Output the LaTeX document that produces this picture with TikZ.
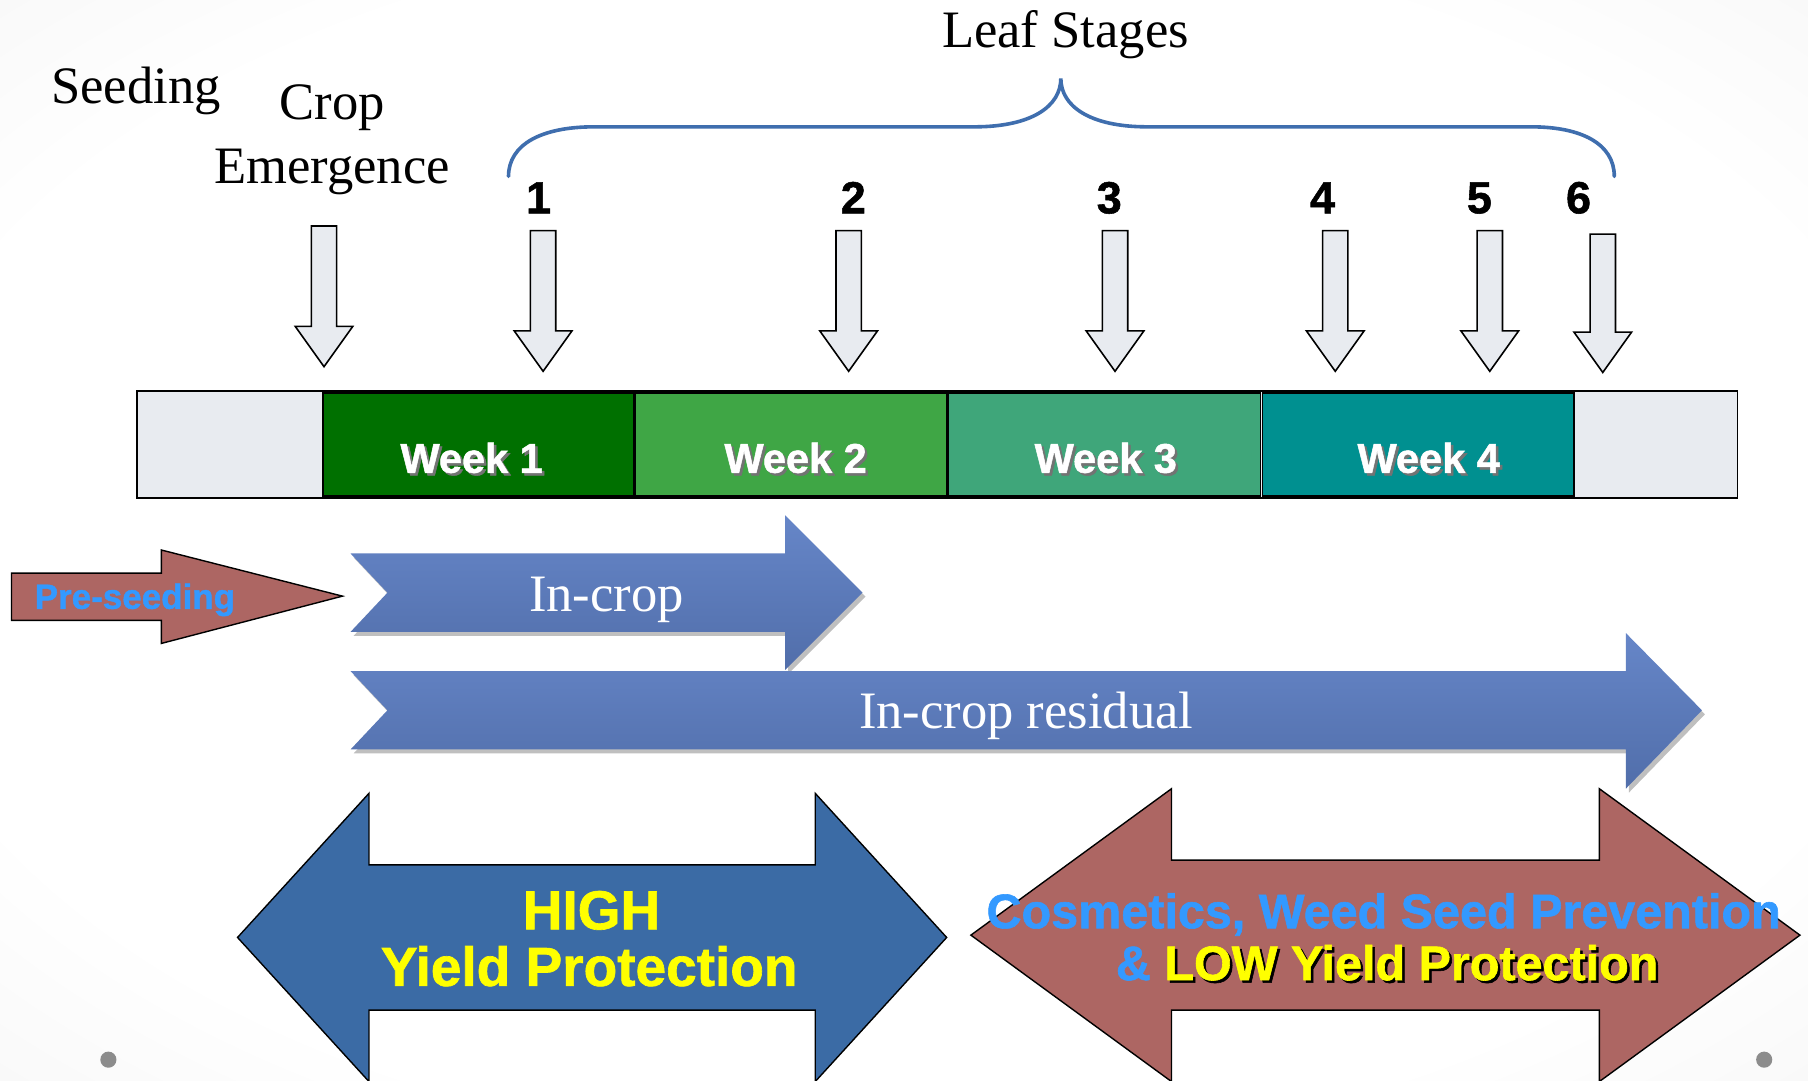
\documentclass[tikz,border=0pt]{standalone}
\usepackage{fontspec}
\setmainfont{Liberation Serif}
\newfontfamily\sansf{Liberation Sans}[BoldFeatures={FakeBold=1.2}]
\usetikzlibrary{shadows}
\definecolor{bargray}{HTML}{E8EBF0}
\definecolor{wkone}{HTML}{007000}
\definecolor{wktwo}{HTML}{3FA645}
\definecolor{wkthree}{HTML}{3FA67A}
\definecolor{wkfour}{HTML}{009090}
\definecolor{bracecol}{HTML}{3F6EAE}
\definecolor{arrtop}{HTML}{6686C8}
\definecolor{arrbot}{HTML}{516EAA}
\definecolor{brick}{HTML}{AD6663}
\definecolor{deepblue}{HTML}{3B6BA5}
\definecolor{skyblue}{HTML}{3399FF}
\definecolor{yell}{HTML}{FFFF00}
\pgfdeclareradialshading{bgshade}{\pgfpoint{0bp}{0bp}}{color(0bp)=(white); color(28bp)=(white); color(50bp)=(black!7); color(71bp)=(black!14)}
\newcommand\shadowed[2]{\leavevmode\rlap{\hspace{2.5pt}\raisebox{-2.5pt}{\color{#1}#2}}#2}
\newcommand\downarr[3]{%
  \draw[darr] (#1-11,#2) -- (#1+11,#2) -- (#1+11,#3-35) -- (#1+25,#3-35) -- (#1,#3)
    -- (#1-25,#3-35) -- (#1-11,#3-35) -- cycle;}
\tikzset{
  serif/.style={font=\fontsize{52.6}{63}\selectfont, anchor=base, inner sep=0pt},
  darr/.style={draw=black, line width=1.6pt, fill=bargray, line join=miter},
  numlab/.style={font=\sansf\bfseries\fontsize{45}{50}\selectfont, anchor=base, inner sep=0pt},
  weekbox/.style={draw=black, line width=1.6pt},
  weeklab/.style={font=\sansf\bfseries\fontsize{41.5}{48}\selectfont, text=white, anchor=base, inner sep=0pt},
  bluearr/.style={top color=arrtop, bottom color=arrbot, draw=none,
     drop shadow={shadow xshift=3pt, shadow yshift=-4pt, opacity=0.25, fill=black}},
  redarr/.style={fill=brick, draw=black, line width=1.4pt, line join=miter},
  boldsans/.style={font=\sansf\bfseries, anchor=base, inner sep=0pt}
}
\begin{document}
\begin{tikzpicture}[x=1.15306pt,y=-1.15306pt]
\useasboundingbox (0,0) rectangle (1568,937);
\clip (0,0) rectangle (1568,937);
\shade[shading=bgshade] (0,0) rectangle (1568,937);

% top labels
\node[serif] (seed) at (118,90) {Seeding};
\node[serif] (crop) at (288,104) {Crop};
\node[serif] (emerg) at (288,159) {Emergence};
\node[serif] (leaf) at (924,41) {Leaf Stages};

% brace
\draw[bracecol, line width=3.6pt, line cap=round]
  (441,153) .. controls (441,125) and (470,110) .. (515,110) -- (845,110)
  .. controls (895,110) and (920,92) .. (920,68)
  .. controls (920,92) and (945,110) .. (995,110) -- (1328,110)
  .. controls (1372,110) and (1400,125) .. (1400,153);

% numbers
\node[numlab] (n1) at (467,185) {1};
\node[numlab] (n2) at (740,185) {2};
\node[numlab] (n3) at (962,185) {3};
\node[numlab] (n4) at (1147,185) {4};
\node[numlab] (n5) at (1283,185) {5};
\node[numlab] (n6) at (1369,185) {6};

% down arrows
\downarr{281}{196}{318}
\downarr{471}{200}{322}
\downarr{736}{200}{322}
\downarr{967}{200}{322}
\downarr{1158}{200}{322}
\downarr{1292}{200}{322}
\downarr{1390}{203}{323}

% timeline bar
\draw[line width=1.6pt, fill=bargray] (119,339) rectangle (1507,432);
\path[weekbox, fill=wkone] (280,341) rectangle (550,430);
\path[weekbox, fill=wktwo] (551,341) rectangle (821,430);
\path[weekbox, fill=wkthree] (822,341) rectangle (1093,430);
\path[weekbox, fill=wkfour] (1095,341) rectangle (1365,430);
\node[weeklab] (w1) at (409,410) {\shadowed{black!55}{Week 1}};
\node[weeklab] (w2) at (690,410) {\shadowed{black!55}{Week 2}};
\node[weeklab] (w3) at (959,410) {\shadowed{black!55}{Week 3}};
\node[weeklab] (w4) at (1239,410) {\shadowed{black!55}{Week 4}};

% pre-seeding arrow
\path[redarr] (10,497) -- (140,497) -- (140,477) -- (297,517) -- (140,558) -- (140,538) -- (10,538) -- cycle;
\node[boldsans, font=\sansf\bfseries\fontsize{35}{40}\selectfont, text=skyblue] (pre) at (117,528) {Pre-seeding};

% in-crop arrows
\path[bluearr] (304,480) -- (681,480) -- (681,447) -- (748,514) -- (681,581) -- (681,548) -- (304,548) -- (336,514) -- cycle;
\node[serif, text=white] (incrop) at (526,530) {In-crop};
\path[bluearr] (304,582) -- (1410,582) -- (1410,549) -- (1476,616) -- (1410,684) -- (1410,650) -- (304,650) -- (336,616) -- cycle;
\node[serif, text=white] (resid) at (890,632) {In-crop residual};

% high yield double arrow
\path[redarr, fill=deepblue] (206,813) -- (320,688) -- (320,750) -- (707,750) -- (707,688) -- (821,813)
  -- (707,938) -- (707,876) -- (320,876) -- (320,938) -- cycle;
\node[boldsans, font=\sansf\bfseries\fontsize{55}{60}\selectfont, text=yell] (high) at (513,806) {HIGH};
\node[boldsans, font=\sansf\bfseries\fontsize{55}{60}\selectfont, text=yell] (yp) at (511,855) {Yield Protection};

% low yield double arrow
\path[redarr] (842,811) -- (1016,684) -- (1016,746) -- (1387,746) -- (1387,684) -- (1561,811)
  -- (1387,938) -- (1387,876) -- (1016,876) -- (1016,938) -- cycle;
\node[boldsans, font=\sansf\bfseries\fontsize{48.5}{55}\selectfont, text=skyblue] (cos) at (1200,805) {Cosmetics, Weed Seed Prevention};
\node[boldsans, font=\sansf\bfseries\fontsize{48.5}{55}\selectfont, text=skyblue] (low) at (1203,850)
  {\&\ \textcolor{yell}{\shadowed{black}{LOW Yield Protection}}};

% slide dots
\fill[black!45] (94,919) circle (7);
\fill[black!45] (1530,919) circle (7);
\end{tikzpicture}
\end{document}
